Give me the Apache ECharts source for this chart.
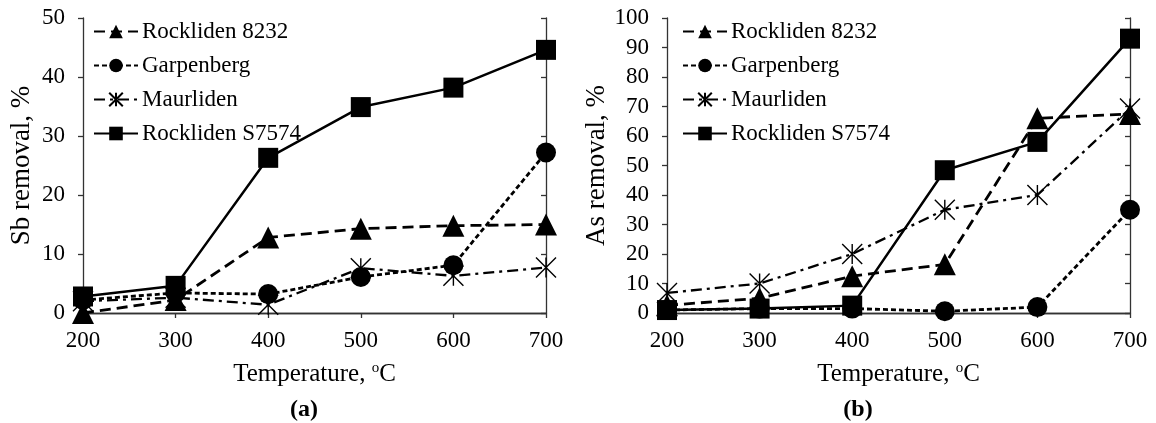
<!DOCTYPE html>
<html><head><meta charset="utf-8">
<script src="https://cdn.jsdelivr.net/npm/echarts@6/dist/echarts.min.js"></script>
<style>html,body{margin:0;padding:0;background:#fff}#c{width:1156px;height:423px}</style>
</head><body><div id="c"></div>
<script>
// ---- data ----
const temperatures = [200, 300, 400, 500, 600, 700];
const seriesNames = ['Rockliden 8232', 'Garpenberg', 'Maurliden', 'Rockliden S7574'];
// (a) Sb removal, %
const sbRockliden8232  = [0.0, 2.2, 12.8, 14.3, 14.8, 15.0];
const sbGarpenberg     = [2.2, 3.4, 3.2, 6.1, 8.1, 27.2];
const sbMaurliden      = [2.0, 2.6, 1.4, 7.6, 6.3, 7.7];
const sbRocklidenS7574 = [2.8, 4.6, 26.3, 34.9, 38.2, 44.6];
// (b) As removal, %
const asRockliden8232  = [2.6, 5.0, 12.5, 16.5, 66.0, 67.5];
const asGarpenberg     = [1.0, 1.5, 1.5, 0.6, 2.0, 35.0];
const asMaurliden      = [6.8, 10.0, 20.0, 35.0, 40.0, 69.3];
const asRocklidenS7574 = [1.0, 1.5, 2.5, 48.4, 58.0, 93.0];
const xTicks = [200, 300, 400, 500, 600, 700];
const sbTicks = [0, 10, 20, 30, 40, 50];
const asTicks = [0, 10, 20, 30, 40, 50, 60, 70, 80, 90, 100];

// ---- styles ----
const FONT = '"Liberation Serif", "Times New Roman", serif';
const AX = '#333';
const asteriskPath = 'path://M0,0L20,20M0,20L20,0M10,0L10,20';
const styles = [
  { symbol: 'triangle', symbolSize: 22, lineStyle: { type: [11, 6], width: 2.8 } },
  { symbol: 'circle', symbolSize: 20, lineStyle: { type: [5, 3], width: 2.8 } },
  { symbol: asteriskPath, symbolSize: 20, lineStyle: { type: [11, 5, 3, 5], width: 2.3 }, border: 1.4 },
  { symbol: 'rect', symbolSize: 20, lineStyle: { type: 'solid', width: 2.5 } }
];

function pairs(vals) { return temperatures.map((t, i) => [t, vals[i]]); }

function makeSeries(dataArrays, gi) {
  return dataArrays.map((vals, k) => ({
    type: 'line',
    name: seriesNames[k],
    xAxisIndex: gi * 2,
    yAxisIndex: gi * 2,
    data: pairs(vals),
    symbol: styles[k].symbol,
    symbolSize: styles[k].symbolSize,
    showSymbol: true,
    z: 10 - k,
    lineStyle: Object.assign({ color: '#000' }, styles[k].lineStyle),
    itemStyle: { color: '#000', borderColor: '#000', borderWidth: styles[k].border || 0 },
    emphasis: { disabled: true },
    animation: false
  }));
}

const grids = [
  { left: 83, top: 18, width: 463, height: 295 },
  { left: 667, top: 18, width: 463, height: 295 }
];

function xAxes(gi) {
  return [
    {
      type: 'value', gridIndex: gi, min: 200, max: 700, interval: 100,
      axisLine: { lineStyle: { color: AX, width: 1.3 } },
      axisTick: { show: true, inside: false, length: 5, lineStyle: { color: AX, width: 1.3 } },
      axisLabel: { color: '#000', fontFamily: FONT, fontSize: 23, margin: 16, customValues: xTicks },
      splitLine: { show: false },
      name: 'Temperature, {s|o}C', nameLocation: 'middle', nameGap: 48,
      nameTextStyle: {
        color: '#000', fontFamily: FONT, fontSize: 25,
        rich: { s: { fontFamily: FONT, fontSize: 15, color: '#000', padding: [0, 0, 12, 0] } }
      }
    },
    {
      type: 'value', gridIndex: gi, position: 'top', min: 200, max: 700,
      axisLine: { show: true, lineStyle: { color: AX, width: 1.3 } },
      axisTick: { show: false }, axisLabel: { show: false }, splitLine: { show: false }
    }
  ];
}

function yAxes(gi, max, ticks, name, gap) {
  return [
    {
      type: 'value', gridIndex: gi, min: 0, max: max, interval: 10,
      axisLine: { show: true, lineStyle: { color: AX, width: 1.3 } },
      axisTick: { show: true, inside: false, length: 5, lineStyle: { color: AX, width: 1.3 } },
      axisLabel: { color: '#000', fontFamily: FONT, fontSize: 23, margin: 18, customValues: ticks },
      splitLine: { show: false },
      name: name, nameLocation: 'middle', nameGap: gap,
      nameTextStyle: { color: '#000', fontFamily: FONT, fontSize: 27 }
    },
    {
      type: 'value', gridIndex: gi, position: 'right', min: 0, max: max, interval: 10,
      axisLine: { show: true, lineStyle: { color: AX, width: 1.3 } },
      axisTick: { show: true, inside: true, length: 5, lineStyle: { color: AX, width: 1.3 } },
      axisLabel: { show: false }, splitLine: { show: false }
    }
  ];
}

function legend(left) {
  return {
    orient: 'vertical', left: left, top: 20, padding: 0,
    itemWidth: 44, itemHeight: 17, itemGap: 11,
    data: seriesNames,
    selectedMode: false,
    textStyle: { color: '#000', fontFamily: FONT, fontSize: 23, lineHeight: 23, padding: [0, 0, 0, -1] }
  };
}

const option = {
  backgroundColor: '#fff',
  animation: false,
  grid: grids,
  xAxis: [...xAxes(0), ...xAxes(1)],
  yAxis: [...yAxes(0, 50, sbTicks, 'Sb removal, %', 48), ...yAxes(1, 100, asTicks, 'As removal, %', 57)],
  legend: [legend(93), legend(682)],
  series: [
    ...makeSeries([sbRockliden8232, sbGarpenberg, sbMaurliden, sbRocklidenS7574], 0),
    ...makeSeries([asRockliden8232, asGarpenberg, asMaurliden, asRocklidenS7574], 1)
  ],
  graphic: [
    { type: 'text', x: 304, y: 410, style: { text: '(a)', font: 'bold 24px ' + FONT, fill: '#000', align: 'center', verticalAlign: 'middle' } },
    { type: 'text', x: 858, y: 410, style: { text: '(b)', font: 'bold 24px ' + FONT, fill: '#000', align: 'center', verticalAlign: 'middle' } }
  ]
};

const chart = echarts.init(document.getElementById('c'), null, { renderer: 'canvas' });
chart.setOption(option);
</script>
</body></html>
